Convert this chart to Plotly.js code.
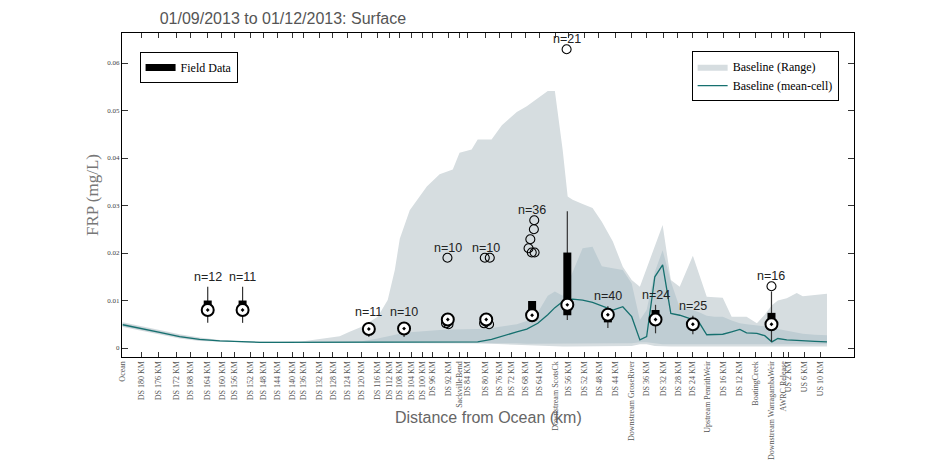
<!DOCTYPE html>
<html>
<head>
<meta charset="utf-8">
<script src="https://cdn.plot.ly/plotly-3.0.1.min.js"></script>
<style>html,body{margin:0;padding:0;background:#fff;}#chart{width:945px;height:472px;}</style>
</head>
<body>
<div id="chart"></div>
<script>
// x positions: distance from ocean (km)
const tickKm = [0, 5.3, 10.0, 15.2, 19.1, 23.9, 27.9, 31.5, 36.0, 39.6, 43.5, 47.6, 50.8, 55.4, 59.1, 63.3, 67.1, 71.5, 75.1, 77.9, 81.3, 84.4, 87.1, 91.5, 94.6, 96.8, 102.1, 105.8, 109.4, 113.2, 117.2, 121.7, 125.2, 129.9, 133.9, 138.5, 143.0, 147.3, 151.9, 156.1, 160.3, 164.4, 168.8, 173.3, 178.0, 182.4, 185.8, 187.3, 191.7, 196.2];
const tickText = ['Ocean','DS 180 KM','DS 176 KM','DS 172 KM','DS 168 KM','DS 164 KM','DS 160 KM','DS 156 KM','DS 152 KM','DS 148 KM','DS 144 KM','DS 140 KM','DS 136 KM','DS 132 KM','DS 128 KM','DS 124 KM','DS 120 KM','DS 116 KM','DS 112 KM','DS 108 KM','DS 104 KM','DS 100 KM','DS 96 KM','DS 92 KM','SackvilleBend','DS 84 KM','DS 80 KM','DS 76 KM','DS 72 KM','DS 68 KM','DS 64 KM','Downstream ScotsCk','DS 56 KM','DS 52 KM','DS 48 KM','DS 44 KM','Downstream GroseRiver','DS 36 KM','DS 32 KM','DS 28 KM','DS 24 KM','Upstream PenrithWeir','DS 16 KM','DS 12 KM','BoatingCreek','Downstream WarragambaWeir','AWRC Release','US 2 KM','US 6 KM','US 10 KM'];

// Baseline model output
const bandKm = [0.0, 4.8, 10.4, 16.0, 21.6, 27.3, 32.9, 38.5, 44.1, 49.8, 55.4, 61.0, 63.8, 67.2, 71.7, 74.5, 76.5, 77.9, 80.7, 85.5, 89.1, 92.8, 94.7, 98.1, 99.8, 103.7, 106.6, 110.8, 113.6, 116.7, 119.5, 121.5, 123.7, 125.1, 126.5, 129.3, 132.1, 134.7, 137.8, 140.6, 143.1, 145.4, 147.3, 149.6, 151.8, 154.1, 156.6, 160.3, 162.2, 164.2, 166.4, 168.7, 171.2, 173.5, 175.4, 178.3, 180.5, 182.5, 184.2, 186.7, 189.5, 191.2, 194.6, 198.0];
const rangeMax = [.0054,.0047,.0038,.0029,.0022,.0017,.0014,.0013,.0013,.0013,.0019,.0025,.0034,.0045,.0066,.0101,.0164,.0230,.0290,.0340,.0366,.0376,.0411,.0418,.0439,.0439,.0469,.0497,.0509,.0526,.0541,.0541,.0417,.0319,.0312,.0303,.0295,.0266,.0224,.0171,.0143,.0129,.0169,.0214,.0259,.0143,.0129,.0194,.0150,.0108,.0107,.0106,.0066,.0066,.0066,.0052,.0070,.0090,.0100,.0105,.0116,.0109,.0111,.0114];
const rangeMin = [.0044,.0037,.0028,.0020,.0015,.0013,.0012,.0011,.0011,.0011,.0011,.0011,.0011,.0011,.0011,.0011,.0011,.0011,.0011,.0011,.0011,.0011,.0011,.0011,.0010,.0009,.0008,.0006,.0005,.0004,.0003,.0003,.0003,.0003,.0003,.0003,.0003,.0003,.0003,.0003,.0004,.0008,.0008,.0004,.0003,.0003,.0003,.0003,.0003,.0003,.0003,.0003,.0003,.0003,.0003,.0003,.0003,.0003,.0003,.0003,.0003,.0003,.0003,.0003];
const innerMax = [.0052,.0045,.0036,.0027,.0020,.0016,.0014,.0013,.0013,.0013,.0013,.0013,.0013,.0014,.0020,.0025,.0028,.0030,.0033,.0036,.0038,.0039,.0039,.0040,.0040,.0042,.0045,.0050,.0057,.0075,.0110,.0119,.0110,.0136,.0160,.0210,.0213,.0172,.0168,.0164,.0136,.0059,.0080,.0160,.0206,.0140,.0085,.0080,.0075,.0068,.0066,.0066,.0058,.0052,.0050,.0048,.0046,.0044,.0040,.0036,.0032,.0030,.0028,.0027];
const innerMin = [.0046,.0039,.0030,.0022,.0016,.0014,.0012,.0011,.0011,.0011,.0011,.0011,.0011,.0011,.0011,.0011,.0011,.0011,.0011,.0011,.0011,.0011,.0011,.0011,.0011,.0011,.0010,.0010,.0009,.0009,.0009,.0009,.0009,.0009,.0009,.0009,.0009,.0009,.0009,.0009,.0010,.0012,.0012,.0010,.0008,.0008,.0008,.0008,.0008,.0008,.0008,.0008,.0008,.0008,.0008,.0008,.0008,.0008,.0008,.0008,.0008,.0008,.0008,.0008];
const meanCell = [.0049,.0042,.0033,.0024,.0018,.0015,.0013,.0012,.0012,.0012,.0012,.0012,.0012,.0012,.0012,.0012,.0012,.0012,.0012,.0012,.0012,.0012,.0012,.0013,.0013,.0018,.0025,.0034,.0040,.0052,.0070,.0085,.0098,.0102,.0103,.0101,.0096,.0088,.0080,.0087,.0066,.0017,.0024,.0150,.0175,.0073,.0069,.0060,.0052,.0028,.0028,.0029,.0034,.0039,.0032,.0031,.0026,.0013,.0020,.0017,.0016,.0015,.0014,.0013];

// Field data box statistics
const boxKm    = [23.9, 33.7, 69.2, 79.1, 91.4, 102.2, 115.1, 125.0, 136.4, 149.8, 160.3, 182.4];
const boxLow   = [.0053, .0053, .0023, .0023, .0055, .0055, .0058, .0059, .0042, .0031, .0029, .0013];
const boxQ1    = [.0072, .0072, .0036, .0037, .0056, .0056, .0062, .0069, .0054, .0055, .0046, .0045];
const boxMed   = [.0080, .0080, .0040, .0041, .0060, .0060, .0069, .0091, .0070, .0060, .0050, .0050];
const boxQ3    = [.0100, .0100, .0046, .0046, .0063, .0063, .0099, .0201, .0075, .0080, .0055, .0074];
const boxHigh  = [.0129, .0129, .0055, .0055, .0065, .0065, .0099, .0288, .0088, .0091, .0068, .0119];
const boxN     = [12, 11, 11, 10, 10, 10, 36, 21, 40, 24, 25, 16];
const boxTop   = [.0129, .0129, .0055, .0055, .0190, .0190, .0269, .0629, .0088, .0091, .0068, .0130];
const outKm    = [91.3, 90.9, 91.6, 101.8, 103.2, 101.6, 103.0, 114.1, 115.0, 115.8, 114.6, 115.6, 115.7, 124.8, 182.4];
const outVal   = [.0190, .0052, .0050, .0190, .0190, .0052, .0050, .0210, .0201, .0201, .0229, .0250, .0269, .0629, .0130];

const serif = 'Liberation Serif, Times New Roman, serif';
const sans = 'Liberation Sans, Arial, sans-serif';

// segment builders (vertical segments separated by gaps)
function segX(xs) { const r = []; xs.forEach(v => { r.push(v, v, null); }); return r; }
function segY(a, b) { const r = []; a.forEach((v, i) => { r.push(v, b[i], null); }); return r; }

const traces = [
  {x: bandKm, y: rangeMin, type: 'scatter', mode: 'lines', line: {width: 0, color: '#d6dde0'}, showlegend: false, hoverinfo: 'skip'},
  {x: bandKm, y: rangeMax, type: 'scatter', mode: 'lines', fill: 'tonexty', fillcolor: '#d6dde0', line: {width: 0, color: '#d6dde0'}, name: 'Baseline (Range)', legend: 'legend'},
  {x: bandKm, y: innerMin, type: 'scatter', mode: 'lines', line: {width: 0, color: '#bfcdd3'}, showlegend: false, hoverinfo: 'skip'},
  {x: bandKm, y: innerMax, type: 'scatter', mode: 'lines', fill: 'tonexty', fillcolor: '#bfcdd3', line: {width: 0, color: '#bfcdd3'}, showlegend: false, hoverinfo: 'skip'},
  {x: bandKm, y: meanCell, type: 'scatter', mode: 'lines', line: {width: 1.3, color: '#16706f'}, name: 'Baseline (mean-cell)', legend: 'legend'},
  // whiskers
  {x: segX(boxKm), y: segY(boxLow, boxHigh), type: 'scatter', mode: 'lines', line: {color: '#333', width: 1.2}, connectgaps: false, showlegend: false, hoverinfo: 'skip'},
  // interquartile boxes
  {x: segX(boxKm), y: segY(boxQ1, boxQ3), type: 'scatter', mode: 'lines', line: {color: '#000', width: 8}, connectgaps: false, showlegend: false, hoverinfo: 'skip'},
  {x: outKm, y: outVal, type: 'scatter', mode: 'markers', marker: {symbol: 'circle-open', size: 9, color: '#000', line: {width: 1.1}}, showlegend: false},
  {x: boxKm, y: boxMed, type: 'scatter', mode: 'markers', marker: {symbol: 'circle-dot', size: 12, color: '#fff', line: {color: '#000', width: 2}}, showlegend: false},
  {x: [null], y: [null], type: 'scatter', mode: 'lines', line: {color: '#000', width: 7}, name: 'Field Data', legend: 'legend2'}
];

const annotations = boxKm.map((k, i) => ({
  x: k, y: boxTop[i], xref: 'x', yref: 'y', text: 'n=' + boxN[i], showarrow: false,
  yanchor: 'bottom', yshift: 1, font: {family: sans, size: 12.5, color: '#222'}
}));
annotations.push({
  text: 'Distance from Ocean (km)', xref: 'paper', yref: 'paper', x: 0.5, y: -0.188,
  xanchor: 'center', yanchor: 'middle', showarrow: false, font: {family: sans, size: 16, color: '#666'}
});

const layout = {
  width: 945, height: 472,
  margin: {l: 122, r: 91, t: 33, b: 115},
  paper_bgcolor: '#fff', plot_bgcolor: '#fff',
  title: {text: '01/09/2013 to 01/12/2013: Surface', xref: 'container', yref: 'container', x: 0.169, xanchor: 'left', y: 0.962, yanchor: 'middle',
          font: {family: sans, size: 16, color: '#555'}},
  xaxis: {range: [-0.2, 205.6], tickmode: 'array', tickvals: tickKm, ticktext: tickText, tickangle: -90,
          ticks: 'inside', ticklen: 5, tickcolor: '#333', showline: true, linecolor: '#000', linewidth: 1, mirror: 'ticks',
          showgrid: false, zeroline: false, tickfont: {family: serif, size: 8, color: '#555'}},
  yaxis: {range: [-0.00189, 0.06632], tickmode: 'array', tickvals: [0, 0.01, 0.02, 0.03, 0.04, 0.05, 0.06],
          ticktext: ['0', '0.01', '0.02', '0.03', '0.04', '0.05', '0.06'],
          ticks: 'inside', ticklen: 6, tickcolor: '#333', showline: true, linecolor: '#000', linewidth: 1, mirror: 'ticks',
          showgrid: false, zeroline: false, tickfont: {family: serif, size: 7, color: '#444'},
          title: {text: 'FRP (mg/L)', font: {family: serif, size: 17, color: '#777'}, standoff: 4}},
  legend: {x: 0.979, xanchor: 'right', y: 0.944, yanchor: 'top', bgcolor: '#fff', bordercolor: '#000', borderwidth: 1,
           font: {family: serif, size: 12, color: '#000'}, tracegroupgap: 0, traceorder: 'normal'},
  legend2: {x: 0.024, xanchor: 'left', y: 0.941, yanchor: 'top', bgcolor: '#fff', bordercolor: '#000', borderwidth: 1,
           font: {family: serif, size: 12, color: '#000'}},
  annotations: annotations,
  showlegend: true
};

Plotly.newPlot('chart', traces, layout, {displayModeBar: false, staticPlot: true});
</script>
</body>
</html>
